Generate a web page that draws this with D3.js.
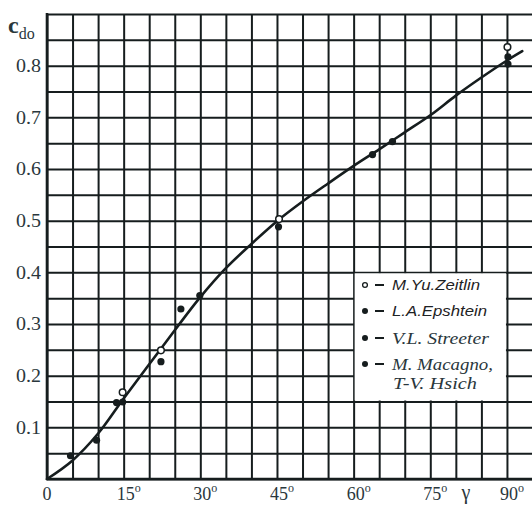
<!DOCTYPE html>
<html>
<head>
<meta charset="utf-8">
<script src="https://cdn.jsdelivr.net/npm/d3@7"></script>
<style>
  html, body { margin: 0; padding: 0; background: #fff; }
  svg { display: block; }
  .serif { font-family: "Liberation Serif", "DejaVu Serif", serif; }
  .sans { font-family: "Liberation Sans", "DejaVu Sans", sans-serif; }
</style>
</head>
<body>
<svg id="chart" width="532" height="506"></svg>
<script>
// Discharge coefficient c_do versus angle γ (degrees)
const xTicks = [0, 15, 30, 45, 60, 75, 90];
const yTicks = [0.1, 0.2, 0.3, 0.4, 0.5, 0.6, 0.7, 0.8];

// fitted curve
const curveAngle = [0, 5, 10, 15, 20, 25, 30, 35, 40, 45, 50, 55, 60, 65, 70, 75, 80, 85, 90, 93];
const curveCdo   = [0, 0.036, 0.088, 0.156, 0.222, 0.288, 0.352, 0.408, 0.455, 0.499, 0.537, 0.572, 0.606, 0.638, 0.671, 0.704, 0.742, 0.777, 0.810, 0.828];

// M.Yu.Zeitlin (open markers)
const zeitlinAngle = [14.8, 22.3, 45.4, 90.1];
const zeitlinCdo   = [0.168, 0.249, 0.503, 0.836];

// L.A.Epshtein, V.L. Streeter, M. Macagno & T-V. Hsich (solid markers)
const solidAngle = [4.6, 9.7, 13.6, 14.8, 22.3, 26.2, 29.9, 45.3, 63.7, 67.6, 90.2, 90.2];
const solidCdo   = [0.045, 0.075, 0.148, 0.149, 0.227, 0.329, 0.355, 0.488, 0.628, 0.653, 0.817, 0.803];

const legendNames = ["M.Yu.Zeitlin", "L.A.Epshtein", "V.L. Streeter", "M. Macagno,", "T-V. Hsich"];

const svg = d3.select("#chart");
const x = d3.scaleLinear().domain([0, 95]).range([47, 532.5]);
const y = d3.scaleLinear().domain([0, 0.9]).range([479, 14]);

const ink = "#161d1e";
const labelInk = "#2a373c";

svg.append("rect").attr("width", 532).attr("height", 506).attr("fill", "#fff");

// grid: every 5 degrees and every 0.05
const gridX = d3.axisBottom(x).tickValues(d3.range(0, 95.01, 5)).tickSize(-(y(0) - y(0.9))).tickFormat("");
const gridY = d3.axisLeft(y).tickValues(d3.range(0, 0.9001, 0.05)).tickSize(-(x(95) - x(0))).tickFormat("");

const gx = svg.append("g").attr("transform", `translate(0,${y(0)})`).call(gridX);
const gy = svg.append("g").attr("transform", `translate(${x(0)},0)`).call(gridY);
[gx, gy].forEach(g => {
  g.select(".domain").remove();
  g.selectAll(".tick line").attr("stroke", ink).attr("stroke-width", 2);
});
// frame
svg.append("line").attr("x1", x(0)).attr("x2", x(0)).attr("y1", y(0.9) - 1).attr("y2", y(0) + 1)
  .attr("stroke", ink).attr("stroke-width", 2.6);
svg.append("line").attr("x1", x(0) - 1).attr("x2", 532).attr("y1", y(0)).attr("y2", y(0))
  .attr("stroke", ink).attr("stroke-width", 2.4);

// legend panel cut out of the grid (60°–90°, 0.15–0.40)
svg.append("rect")
  .attr("x", x(60) + 1).attr("y", y(0.40) + 1)
  .attr("width", x(90) - x(60) - 2).attr("height", y(0.15) - y(0.40) - 2)
  .attr("fill", "#fff");

// y tick labels
svg.append("g").selectAll("text").data(yTicks).join("text")
  .attr("class", "serif")
  .attr("x", 41).attr("y", d => y(d)).attr("dy", "0.36em")
  .attr("text-anchor", "end")
  .attr("font-size", 18).attr("fill", labelInk)
  .attr("textLength", 25).attr("lengthAdjust", "spacingAndGlyphs")
  .text(d => d3.format(".1f")(d));

// y axis title c_do
const yt = svg.append("text").attr("class", "serif").attr("x", 8).attr("y", 33)
  .attr("fill", labelInk);
yt.append("tspan").attr("font-size", 24).attr("font-weight", "bold").text("c");
yt.append("tspan").attr("font-size", 16).attr("dy", 6).text("do");

// x tick labels with degree marks
const xl = svg.append("g").selectAll("text").data(xTicks).join("text")
  .attr("class", "serif")
  .attr("x", d => x(d) + (d === 0 ? 0 : 5)).attr("y", 500)
  .attr("text-anchor", "middle")
  .attr("font-size", 18).attr("fill", labelInk);
xl.append("tspan").text(d => d);
xl.filter(d => d !== 0).append("tspan").attr("font-size", 12).attr("dy", -8).text("o");

// gamma axis title
svg.append("text").attr("class", "serif").attr("x", 466).attr("y", 499).attr("text-anchor", "middle")
  .attr("font-size", 20).attr("fill", labelInk).text("γ");

// fitted curve
const curvePts = curveAngle.map((a, i) => [a, curveCdo[i]]);
svg.append("path").datum(curvePts)
  .attr("d", d3.line().x(d => x(d[0])).y(d => y(d[1])).curve(d3.curveCatmullRom))
  .attr("fill", "none").attr("stroke", ink).attr("stroke-width", 2.6).attr("stroke-linecap", "round");

// solid markers
svg.append("g").selectAll("circle").data(solidAngle.map((a, i) => [a, solidCdo[i]])).join("circle")
  .attr("cx", d => x(d[0])).attr("cy", d => y(d[1])).attr("r", 3.6).attr("fill", ink);

// open markers
svg.append("g").selectAll("circle").data(zeitlinAngle.map((a, i) => [a, zeitlinCdo[i]])).join("circle")
  .attr("cx", d => x(d[0])).attr("cy", d => y(d[1])).attr("r", 3.3)
  .attr("fill", "#fff").attr("stroke", ink).attr("stroke-width", 1.5);

// legend
const rowY = [285, 311, 338, 364];
const rowWidth = [88, 95, 97, 101, 84];
const lg = svg.append("g");
rowY.forEach((ry, i) => {
  if (i === 0) {
    lg.append("circle").attr("cx", 365).attr("cy", ry).attr("r", 2.4)
      .attr("fill", "#fff").attr("stroke", ink).attr("stroke-width", 1.3);
  } else {
    lg.append("circle").attr("cx", 365).attr("cy", ry).attr("r", 3).attr("fill", ink);
  }
  lg.append("line").attr("x1", 375).attr("x2", 384).attr("y1", ry).attr("y2", ry)
    .attr("stroke", ink).attr("stroke-width", 2);
  const isSans = i < 2;
  lg.append("text").attr("class", isSans ? "sans" : "serif")
    .attr("x", 392).attr("y", ry + (isSans ? 5 : 5.5))
    .attr("font-size", isSans ? 15 : 17)
    .attr("font-style", "italic")
    .attr("textLength", rowWidth[i]).attr("lengthAdjust", "spacingAndGlyphs")
    .attr("fill", isSans ? "#1e2224" : labelInk)
    .text(legendNames[i]);
});
lg.append("text").attr("class", "serif").attr("x", 393).attr("y", 389)
  .attr("font-size", 17).attr("font-style", "italic")
  .attr("textLength", rowWidth[4]).attr("lengthAdjust", "spacingAndGlyphs")
  .attr("fill", labelInk).text(legendNames[4]);
</script>
</body>
</html>
